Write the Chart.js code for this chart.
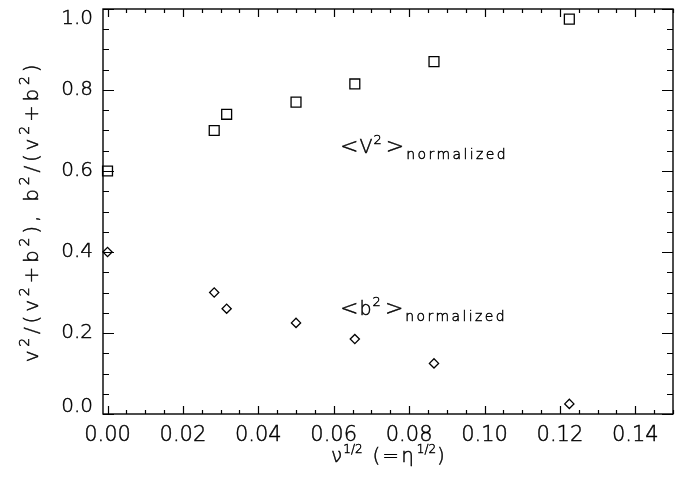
<!DOCTYPE html>
<html><head><meta charset="utf-8">
<script src="https://cdn.jsdelivr.net/npm/chart.js@4.4.1/dist/chart.umd.min.js"></script>
<style>html,body{margin:0;padding:0;background:#fff;}#wrap{width:683px;height:484px;}</style>
</head><body><div id="wrap"><canvas id="c" width="683" height="484"></canvas></div>
<script>
// ---- data ----
const nuHalf = [0.0, 0.0283, 0.0316, 0.05, 0.0656, 0.0866, 0.1225];
const v2Norm = [0.60, 0.70, 0.74, 0.77, 0.815, 0.87, 0.975];
const b2Norm = [0.40, 0.30, 0.26, 0.225, 0.185, 0.125, 0.025];
const xTickValues = [0, 0.02, 0.04, 0.06, 0.08, 0.10, 0.12, 0.14];
const xTickLabels = ['0.00','0.02','0.04','0.06','0.08','0.10','0.12','0.14'];
const yTickValues = [0, 0.2, 0.4, 0.6, 0.8, 1.0];
const yTickLabels = ['0.0','0.2','0.4','0.6','0.8','1.0'];
const xMinorStep = 0.005, yMinorStep = 0.05;

const FAM = '"DejaVu Sans", sans-serif';
const W = '200';
const STROKE = 0.45;

function drawRich(ctx, segs) {
  let x = 0;
  ctx.strokeStyle = '#000';
  ctx.lineWidth = STROKE;
  for (const s of segs) {
    ctx.font = W + ' ' + s.size + 'px ' + FAM;
    ctx.letterSpacing = (s.ls || 0) + 'px';
    ctx.fillText(s.t, x, s.dy || 0);
    ctx.strokeText(s.t, x, s.dy || 0);
    x += ctx.measureText(s.t).width + (s.gap || 0);
  }
  ctx.letterSpacing = '0px';
  return x;
}
function richWidth(ctx, segs) {
  let x = 0;
  for (const s of segs) {
    ctx.font = W + ' ' + s.size + 'px ' + FAM;
    ctx.letterSpacing = (s.ls || 0) + 'px';
    x += ctx.measureText(s.t).width + (s.gap || 0);
  }
  ctx.letterSpacing = '0px';
  return x;
}

const frameTicks = {
  id: 'frameTicks',
  afterDatasetsDraw(chart) {
    const {ctx, chartArea: a, scales: {x, y}} = chart;
    ctx.save();
    ctx.strokeStyle = '#000';
    ctx.lineWidth = 1.4;
    ctx.strokeRect(a.left, a.top, a.right - a.left, a.bottom - a.top);
    ctx.lineWidth = 1.2;
    ctx.beginPath();
    for (let k = 0; ; k++) {
      const v = k * xMinorStep;
      if (v > x.max + 1e-9) break;
      if (v < x.min) continue;
      const px = Math.round(x.getPixelForValue(v)) + 0.5;
      const len = (k % 4 === 0) ? 8 : 4;
      ctx.moveTo(px, a.bottom); ctx.lineTo(px, a.bottom - len);
      ctx.moveTo(px, a.top); ctx.lineTo(px, a.top + len);
    }
    for (let k = 0; ; k++) {
      const v = k * yMinorStep;
      if (v > y.max + 1e-9) break;
      const py = Math.round(y.getPixelForValue(v)) + 0.5;
      const len = (k % 4 === 0) ? 11 : 6;
      ctx.moveTo(a.left, py); ctx.lineTo(a.left + len, py);
      ctx.moveTo(a.right, py); ctx.lineTo(a.right - len, py);
    }
    ctx.stroke();
    ctx.restore();
  },
  afterDraw(chart) {
    const {ctx, chartArea: a, scales: {x, y}} = chart;
    ctx.save();
    ctx.fillStyle = '#000';
    ctx.textBaseline = 'alphabetic';
    // annotations
    const ann = [
      {xv: 0.0617, yv: 0.644, base: 'V'},
      {xv: 0.0617, yv: 0.2444, base: 'b'}
    ];
    for (const an of ann) {
      ctx.save();
      ctx.translate(x.getPixelForValue(an.xv), y.getPixelForValue(an.yv));
      drawRich(ctx, [
        {t: '<', size: 22, gap: 1},
        {t: an.base, size: 19, gap: 1},
        {t: '2', size: 13, dy: -9, gap: 4},
        {t: '>', size: 22, gap: 2},
        {t: 'normalized', size: 14, dy: 6, ls: 2.4}
      ]);
      ctx.restore();
    }
    // x title
    const xs = [
      {t: 'ν', size: 20, gap: 1},
      {t: '1/2', size: 12, dy: -9, gap: 10},
      {t: '(=η', size: 20, ls: 2, gap: 1},
      {t: '1/2', size: 12, dy: -9, gap: 1},
      {t: ')', size: 20}
    ];
    ctx.save();
    const xw = richWidth(ctx, xs);
    ctx.translate((a.left + a.right) / 2 - xw / 2, 462);
    drawRich(ctx, xs);
    ctx.restore();
    // y title
    const N = 20, S = 14, D = -9, L = 3.8;
    const ys = [
      {t: 'v', size: N, ls: L}, {t: '2', size: S, dy: D, ls: L},
      {t: '/(v', size: N, ls: L}, {t: '2', size: S, dy: D, ls: L},
      {t: '+b', size: N, ls: L}, {t: '2', size: S, dy: D, ls: L},
      {t: '), ', size: N, ls: L},
      {t: 'b', size: N, ls: L}, {t: '2', size: S, dy: D, ls: L},
      {t: '/(v', size: N, ls: L}, {t: '2', size: S, dy: D, ls: L},
      {t: '+b', size: N, ls: L}, {t: '2', size: S, dy: D, ls: L},
      {t: ')', size: N, ls: L}
    ];
    const yw = richWidth(ctx, ys);
    ctx.translate(38, (a.top + a.bottom) / 2 + yw / 2);
    ctx.rotate(-Math.PI / 2);
    drawRich(ctx, ys);
    ctx.restore();
  }
};

function zeroPad(s) { s.paddingTop = 0; s.paddingBottom = 0; s.paddingLeft = 0; s.paddingRight = 0; }

new Chart(document.getElementById('c'), {
  type: 'scatter',
  data: {
    datasets: [
      {
        label: '<v²> normalized',
        data: nuHalf.map((xv, i) => ({x: xv, y: v2Norm[i]})),
        pointStyle: 'rect', pointRadius: 7, pointHoverRadius: 7,
        backgroundColor: 'rgba(0,0,0,0)', borderColor: '#000', borderWidth: 1.3,
        showLine: false, clip: false
      },
      {
        label: '<b²> normalized',
        data: nuHalf.map((xv, i) => ({x: xv, y: b2Norm[i]})),
        pointStyle: 'rectRot', pointRadius: 4.6, pointHoverRadius: 4.6,
        backgroundColor: 'rgba(0,0,0,0)', borderColor: '#000', borderWidth: 1.3,
        showLine: false, clip: false
      }
    ]
  },
  options: {
    responsive: false, animation: false, devicePixelRatio: 1,
    layout: {padding: {top: 9, right: 10, left: 0, bottom: 0}},
    plugins: {legend: {display: false}, tooltip: {enabled: false}},
    events: [],
    scales: {
      x: {
        type: 'linear', min: -0.0012, max: 0.15,
        afterBuildTicks: s => { s.ticks = xTickValues.map(v => ({value: v})); },
        afterFit: s => { s.height = 70; zeroPad(s); },
        grid: {display: false, drawTicks: false},
        border: {display: false},
        ticks: {
          callback: (v, i) => xTickLabels[i],
          font: {family: FAM, size: 21, weight: W},
          color: '#000', textStrokeColor: '#000', textStrokeWidth: STROKE,
          padding: 9, maxRotation: 0, autoSkip: false
        }
      },
      y: {
        type: 'linear', min: 0, max: 1,
        afterBuildTicks: s => { s.ticks = yTickValues.map(v => ({value: v})); },
        afterFit: s => { s.width = 103; zeroPad(s); },
        grid: {display: false, drawTicks: false},
        border: {display: false},
        ticks: {
          callback: (v, i) => {
            const lbl = yTickLabels[i];
            if (i === yTickLabels.length - 1) return ['', lbl];
            if (i === 0) return [lbl, ''];
            return lbl;
          },
          font: c => ({family: FAM, size: 20, weight: W,
            lineHeight: c.index === yTickValues.length - 1 ? '19px' : (c.index === 0 ? '14px' : 1.2)}),
          color: '#000', textStrokeColor: '#000', textStrokeWidth: STROKE,
          padding: 10, autoSkip: false
        }
      }
    }
  },
  plugins: [frameTicks]
});
</script>
</body></html>
